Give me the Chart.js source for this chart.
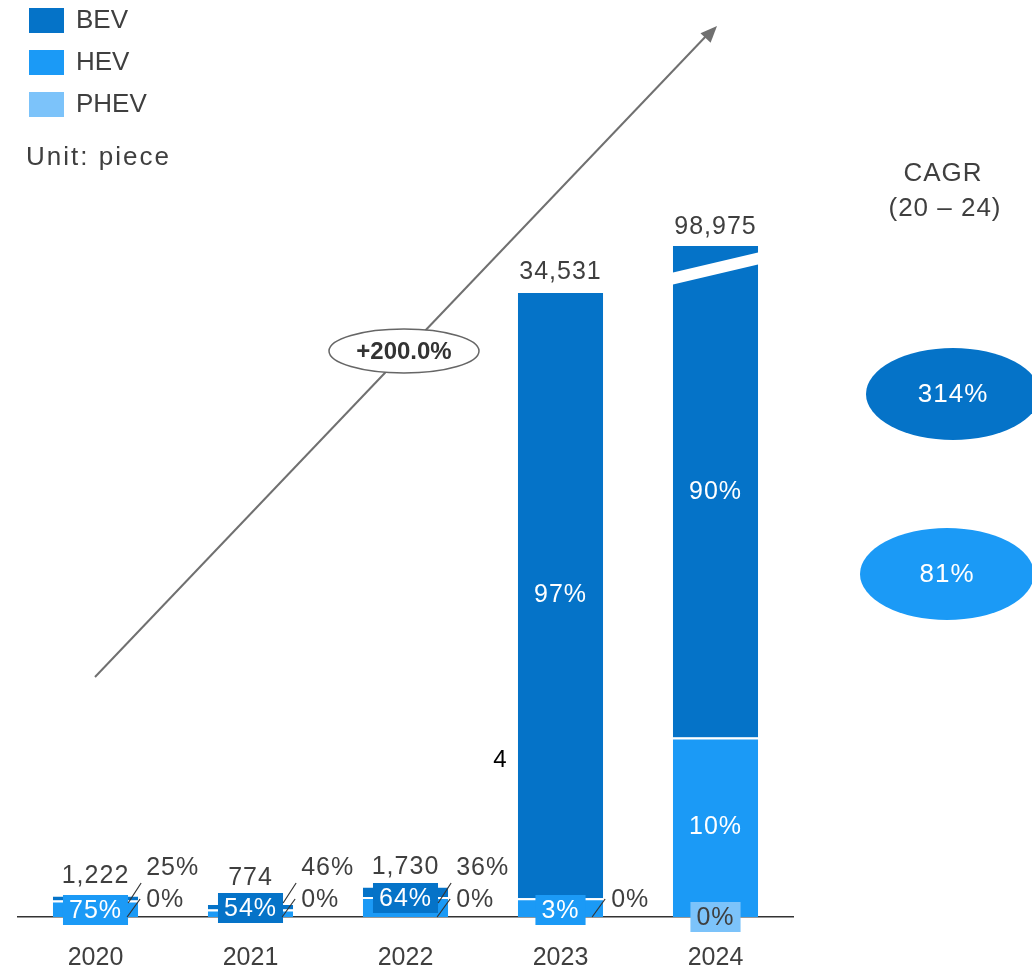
<!DOCTYPE html>
<html>
<head>
<meta charset="utf-8">
<script src="https://cdn.jsdelivr.net/npm/chart.js@4.4.1/dist/chart.umd.min.js"></script>
<style>
    html, body { margin: 0; padding: 0; background: #fff; }
</style>
</head>
<body>
<canvas id="ev" width="1032" height="970"></canvas>
<script>
// ---------------- data
const years = ['2020', '2021', '2022', '2023', '2024'];
const totals = [1222, 774, 1730, 34531, 98975];
const bevShare = [25, 46, 36, 97, 90];
const hevShare = [75, 54, 64, 3, 10];
const phevShare = [0, 0, 0, 0, 0];
const cagrLabels = ['314%', '81%'];
const growthLabel = '+200.0%';

const bevValues = totals.map((t, i) => t * bevShare[i] / 100);
const hevValues = totals.map((t, i) => t * hevShare[i] / 100);
const phevValues = totals.map((t, i) => t * phevShare[i] / 100);

// ---------------- style
const BEV = '#0573c8';
const HEV = '#1b9af6';
const PHEV = '#7cc3fa';
const TXT = '#3f3f3f';
const FONT = '"Liberation Sans", Arial, sans-serif';

// boxed label at bottom of each bar: dataset index, box colour, text colour, lift from base
const boxSeg = [1, 1, 1, 1, 0];
const boxFill = [HEV, BEV, BEV, HEV, PHEV];
const boxText = ['#fff', '#fff', '#fff', '#fff', TXT];
const boxLift = [7, 9, 19, 7, 0];

function pct(v) { return v + '%'; }

const labelPlugin = {
    id: 'evLabels',
    afterDatasetsDraw(chart) {
        const ctx = chart.ctx;
        const area = chart.chartArea;
        const metas = [chart.getDatasetMeta(0), chart.getDatasetMeta(1), chart.getDatasetMeta(2)];
        const shares = [phevShare, hevShare, bevShare];
        ctx.save();
        ctx.letterSpacing = '1px';

        years.forEach((y, j) => {
            const topEl = metas[2].data[j];
            const base = metas[0].data[j].base;
            const half = topEl.width / 2;
            const right = topEl.x + half;
            const top = Math.max(topEl.y, area.top);
            const cy = base - boxLift[j];

            // break mark on the clipped bar
            if (topEl.y < area.top) {
                ctx.fillStyle = '#fff';
                ctx.beginPath();
                ctx.moveTo(topEl.x - half - 2, top + 27);
                ctx.lineTo(topEl.x + half + 2, top + 6);
                ctx.lineTo(topEl.x + half + 2, top + 18);
                ctx.lineTo(topEl.x - half - 2, top + 39);
                ctx.closePath();
                ctx.fill();
            }

            // total
            ctx.font = '25px ' + FONT;
            ctx.fillStyle = TXT;
            ctx.textAlign = 'center';
            ctx.textBaseline = 'alphabetic';
            ctx.fillText(totals[j].toLocaleString('en-US'), topEl.x, Math.min(top - 12, cy - 23));

            // big segments: white text in the middle
            for (let d = 1; d <= 2; d++) {
                const el = metas[d].data[j];
                const segTop = Math.max(el.y, area.top);
                if (el.base - segTop > 40) {
                    ctx.fillStyle = '#fff';
                    ctx.textBaseline = 'middle';
                    ctx.fillText(pct(shares[d][j]), el.x, (segTop + el.base) / 2);
                }
            }

            // boxed label near the base
            const bi = boxSeg[j];
            const txt = pct(shares[bi][j]);
            const w = ctx.measureText(txt).width + 12;
            ctx.fillStyle = boxFill[j];
            ctx.fillRect(topEl.x - w / 2, cy - 15, w, 30);
            ctx.fillStyle = boxText[j];
            ctx.textBaseline = 'middle';
            ctx.fillText(txt, topEl.x, cy + 1);

            // outside labels with leader lines
            ctx.strokeStyle = '#333';
            ctx.lineWidth = 1.2;
            ctx.textAlign = 'left';
            ctx.fillStyle = TXT;
            if (j < 3) {
                ctx.beginPath();
                ctx.moveTo(right - 10, base - 14);
                ctx.lineTo(right + 3, base - 34);
                ctx.stroke();
                ctx.fillText(pct(bevShare[j]), right + 8, base - 49);
            }
            if (j < 4) {
                ctx.beginPath();
                ctx.moveTo(right - 11, base);
                ctx.lineTo(right + 2, base - 18);
                ctx.stroke();
                ctx.fillText(pct(phevShare[j]), right + 8, base - 17);
            }
        });
        ctx.restore();
    },
    afterDraw(chart) {
        const ctx = chart.ctx;
        ctx.save();

        // legend (top of stack first)
        const dsets = chart.data.datasets.slice().reverse();
        ctx.font = '26px ' + FONT;
        ctx.textAlign = 'left';
        ctx.textBaseline = 'middle';
        dsets.forEach((ds, i) => {
            const cy = 20 + i * 42;
            ctx.fillStyle = ds.backgroundColor;
            ctx.fillRect(29, cy - 12, 35, 25);
            ctx.fillStyle = TXT;
            ctx.fillText(ds.label, 76, cy + 1);
        });
        ctx.letterSpacing = '2px';
        ctx.fillText('Unit: piece', 26, 158);
        ctx.letterSpacing = '0px';

        // growth arrow
        ctx.strokeStyle = '#707070';
        ctx.fillStyle = '#707070';
        ctx.lineWidth = 2;
        ctx.beginPath();
        ctx.moveTo(95, 677);
        ctx.lineTo(708, 34);
        ctx.stroke();
        const ang = Math.atan2(28 - 677, 716 - 95);
        ctx.beginPath();
        ctx.moveTo(717, 26);
        ctx.lineTo(717 - 18 * Math.cos(ang - 0.4), 26 - 18 * Math.sin(ang - 0.4));
        ctx.lineTo(717 - 18 * Math.cos(ang + 0.4), 26 - 18 * Math.sin(ang + 0.4));
        ctx.closePath();
        ctx.fill();

        ctx.fillStyle = '#fff';
        ctx.strokeStyle = '#666';
        ctx.lineWidth = 1.5;
        ctx.beginPath();
        ctx.ellipse(404, 351, 75, 22, 0, 0, Math.PI * 2);
        ctx.fill();
        ctx.stroke();
        ctx.fillStyle = '#333';
        ctx.font = 'bold 24px ' + FONT;
        ctx.textAlign = 'center';
        ctx.fillText(growthLabel, 404, 352);

        // CAGR column
        ctx.font = '26px ' + FONT;
        ctx.letterSpacing = '1px';
        ctx.fillStyle = TXT;
        ctx.fillText('CAGR', 943, 174);
        ctx.fillText('(20 \u2013 24)', 945, 209);
        [[BEV, 953, 394], [HEV, 947, 574]].forEach((e, i) => {
            ctx.fillStyle = e[0];
            ctx.beginPath();
            ctx.ellipse(e[1], e[2], 87, 46, 0, 0, Math.PI * 2);
            ctx.fill();
            ctx.fillStyle = '#fff';
            ctx.fillText(cagrLabels[i], e[1], e[2] + 1);
        });
        ctx.letterSpacing = '0px';

        ctx.fillStyle = '#000';
        ctx.font = '24px ' + FONT;
        ctx.fillText('4', 500, 760);
        ctx.restore();
    }
};

new Chart(document.getElementById('ev'), {
    type: 'bar',
    data: {
        labels: years,
        datasets: [
            { label: 'PHEV', data: phevValues, backgroundColor: PHEV },
            { label: 'HEV', data: hevValues, backgroundColor: HEV },
            { label: 'BEV', data: bevValues, backgroundColor: BEV }
        ]
    },
    options: {
        responsive: false,
        animation: false,
        layout: {
            padding: { top: 246, left: 18, right: 239, bottom: -29 }
        },
        datasets: {
            bar: {
                barPercentage: 0.55,
                categoryPercentage: 1,
                borderColor: '#fff',
                borderWidth: { top: 2 },
                borderSkipped: false,
                clip: 0
            }
        },
        plugins: {
            legend: { display: false },
            tooltip: { enabled: false }
        },
        scales: {
            x: {
                stacked: true,
                grid: { display: false, drawTicks: false },
                border: { display: true, color: '#333', width: 1.5 },
                ticks: {
                    color: TXT,
                    padding: 26,
                    font: { size: 25, family: FONT }
                }
            },
            y: {
                stacked: true,
                display: false,
                min: 0,
                max: 37020
            }
        }
    },
    plugins: [labelPlugin]
});
</script>
</body>
</html>
